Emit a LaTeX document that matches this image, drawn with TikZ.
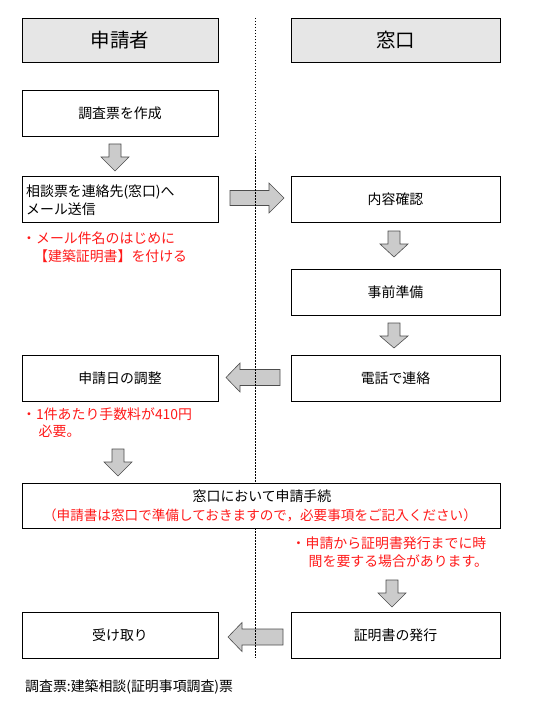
\documentclass[tikz,border=0pt]{standalone}
\usepackage{fontspec}
\setmainfont{Noto Sans CJK JP}
\definecolor{hdrgray}{HTML}{E6E6E6}
\definecolor{arrfill}{HTML}{CBCBCB}
\definecolor{arrline}{HTML}{4D4D4D}
\definecolor{notered}{HTML}{FF1A1A}
\newcommand\bodyfont{\fontsize{13.9}{18}\selectfont}
\newcommand\hdrfont{\fontsize{19.5}{24}\selectfont}
\newcommand\dnarrow[4]{\draw[blockarrow] ({#1-6},#2) -- ({#1+6},#2) -- ({#1+6},#3) -- ({#1+14},#3) -- (#1,#4) -- ({#1-14},#3) -- ({#1-6},#3) -- cycle;}
\newcommand\rtarrow[4]{\draw[blockarrow] (#2,{#1-7.5}) -- (#3,{#1-7.5}) -- (#3,{#1-15}) -- (#4,#1) -- (#3,{#1+15}) -- (#3,{#1+7.5}) -- (#2,{#1+7.5}) -- cycle;}
\newcommand\lfarrow[4]{\draw[blockarrow] (#4,{#1-8}) -- (#3,{#1-8}) -- (#3,{#1-14.5}) -- (#2,#1) -- (#3,{#1+14.5}) -- (#3,{#1+8}) -- (#4,{#1+8}) -- cycle;}
\begin{document}
\begin{tikzpicture}[x=1pt,y=-1pt,
  box/.style={draw=black, line width=0.9pt, fill=white, inner sep=0pt, font=\bodyfont, text=black},
  lbox/.style={box, minimum width=196pt, minimum height=46pt},
  rbox/.style={box, minimum width=209pt, minimum height=46pt},
  hdr/.style={box, fill=hdrgray, minimum height=44pt, font=\hdrfont},
  blockarrow/.style={draw=arrline, line width=0.6pt, fill=arrfill},
  note/.style={anchor=west, inner sep=0pt, font=\bodyfont, text=notered},
  plain/.style={anchor=west, inner sep=0pt, font=\bodyfont, text=black}]
\useasboundingbox (0,0) rectangle (555,714);
% block arrows
\dnarrow{115}{144}{157}{171}
\rtarrow{198}{230}{269}{284}
\dnarrow{394}{231}{244}{257}
\dnarrow{394}{323}{336}{348}
\lfarrow{377.5}{226}{240}{280}
\dnarrow{118}{449}{462}{476}
\dnarrow{392}{580}{593}{607}
\lfarrow{637}{228}{242}{283}
% divider
\coordinate (vtop) at (255,18);
\coordinate (vbot) at (255,658);
\draw[line width=1pt, dash pattern=on 1.5pt off 1.5pt] (vtop) -- (vbot);
% headers
\node[hdr, minimum width=196pt] (hA) at (120,40) {申請者};
\node[hdr, minimum width=209pt] (hB) at (395.5,40) {窓口};
% left column
\node[lbox] (make) at (120,113) {調査票を作成};
\node[lbox] (send) at (120,199) {};
\node[plain] (sendA) at (26,192.5) {相談票を連絡先(窓口)へ};
\node[plain] (sendB) at (26,209.5) {メール送信};
\node[note] (n1a) at (22,238.5) {・メール件名のはじめに};
\node[note] (n1b) at (34,256) {【建築証明書】を付ける};
\node[lbox] (date) at (120,378) {申請日の調整};
\node[note] (n2a) at (22,414) {・1件あたり手数料が410円};
\node[note] (n2b) at (38.5,431) {必要。};
% right column
\node[rbox] (check) at (395.5,199) {内容確認};
\node[rbox] (prep) at (395.5,292.5) {事前準備};
\node[rbox] (tel) at (395.5,378) {電話で連絡};
% wide box
\node[box, minimum width=478pt, minimum height=45pt] (apply) at (261,505.5) {};
\node[inner sep=0pt, font=\bodyfont] (applyA) at (262,496) {窓口において申請手続};
\node[inner sep=0pt, font=\fontsize{13.6}{18}\selectfont, text=notered] (applyB) at (260,515) {（申請書は窓口で準備しておきますので，必要事項をご記入ください）};
\node[note] (n3a) at (291.5,543.5) {・申請から証明書発行までに時};
\node[note] (n3b) at (308.5,561) {間を要する場合があります。};
% bottom row
\node[lbox] (recv) at (120,635) {受け取り};
\node[rbox] (issue) at (395.5,635) {証明書の発行};
% footer
\node[plain] (foot) at (25,687) {調査票:建築相談(証明事項調査)票};
\end{tikzpicture}
\end{document}
